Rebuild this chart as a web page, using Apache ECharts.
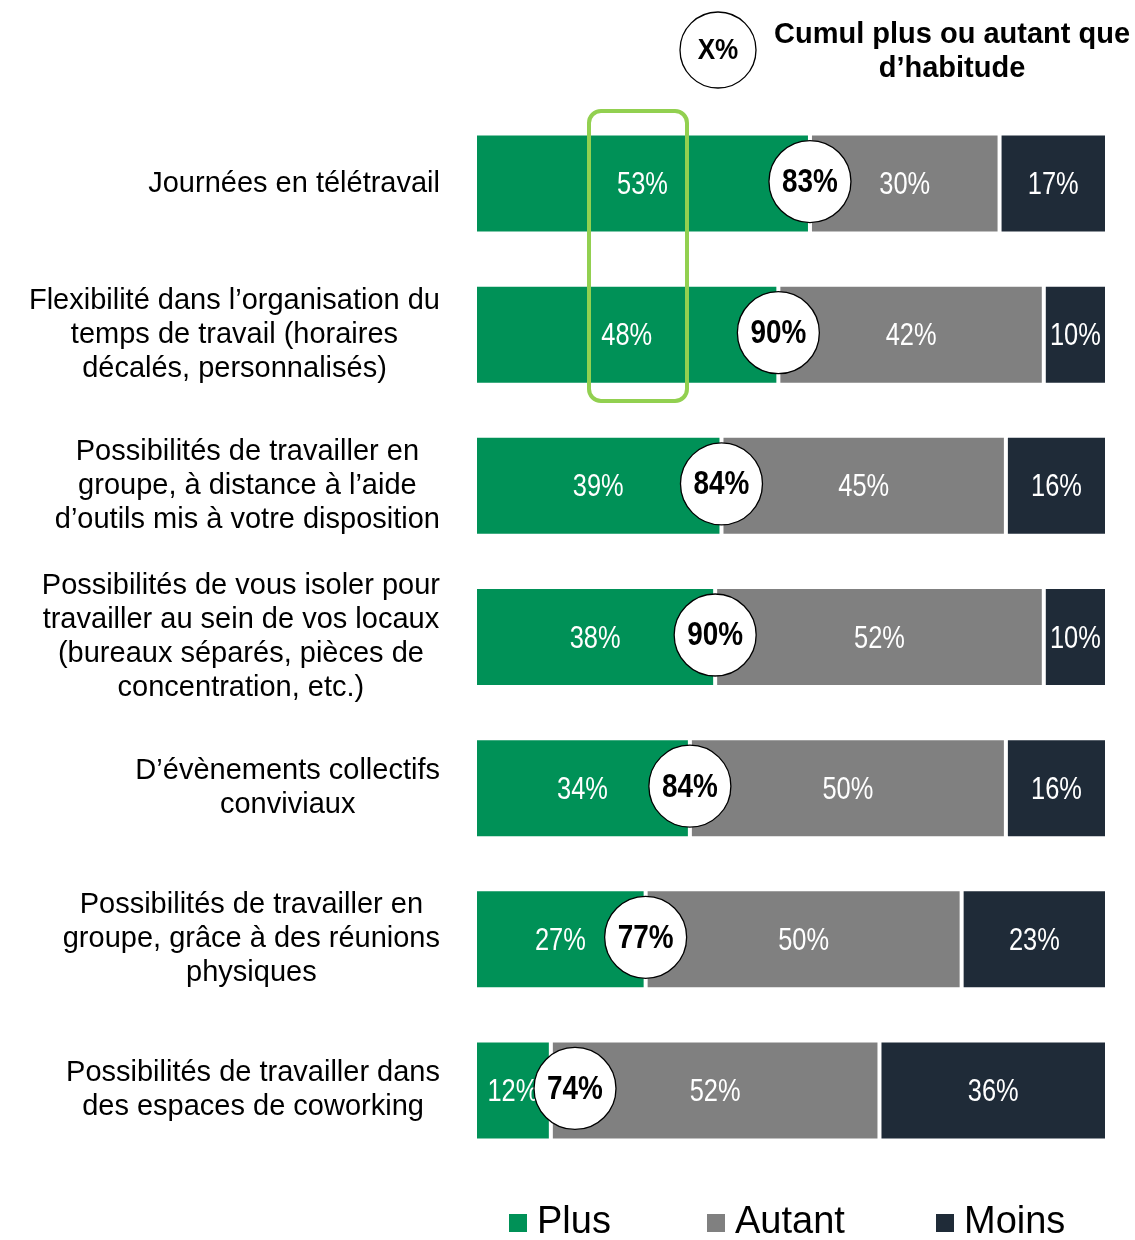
<!DOCTYPE html>
<html>
<head>
<meta charset="utf-8">
<script src="https://cdn.jsdelivr.net/npm/echarts@6/dist/echarts.min.js"></script>
<style>
html,body{margin:0;padding:0;background:#fff;}
#chart{width:1135px;height:1240px;}
</style>
</head>
<body>
<div id="chart"></div>
<script>
var categories = [
  "Journées en télétravail",
  "Flexibilité dans l’organisation du\ntemps de travail (horaires\ndécalés, personnalisés)",
  "Possibilités de travailler en\ngroupe, à distance à l’aide\nd’outils mis à votre disposition",
  "Possibilités de vous isoler pour\ntravailler au sein de vos locaux\n(bureaux séparés, pièces de\nconcentration, etc.)",
  "D’évènements collectifs\nconviviaux",
  "Possibilités de travailler en\ngroupe, grâce à des réunions\nphysiques",
  "Possibilités de travailler dans\ndes espaces de coworking"
];
var plus   = [53, 48, 39, 38, 34, 27, 12];
var autant = [30, 42, 45, 52, 50, 50, 52];
var moins  = [17, 10, 16, 10, 16, 23, 36];
var cumul  = [83, 90, 84, 90, 84, 77, 74];
var seriesNames = ["Plus", "Autant", "Moins"];

var SANS = "'Liberation Sans',Arial,Helvetica,sans-serif";
var NARROW_SCALE = 0.82;
var colors = ["#009157", "#808080", "#1F2B38"];

var chart = echarts.init(document.getElementById('chart'));

function barSeries(name, data, color) {
  return {
    name: name,
    type: 'bar',
    stack: 'total',
    barWidth: 100,
    data: data,
    itemStyle: { color: color, borderColor: '#fff', borderWidth: 2 },
    label: { show: false },
    emphasis: { disabled: true },
    z: 2
  };
}

// segment labels built from the value arrays
var segData = [];
plus.forEach(function (p, i) {
  var vals = [plus[i], autant[i], moins[i]];
  var start = 0;
  vals.forEach(function (v) {
    segData.push([i, start, start + v, v]);
    start += v;
  });
});

var circleData = plus.map(function (p, i) { return [i, p, cumul[i]]; });

function legendFor(k, left) {
  return {
    left: left,
    bottom: -2,
    padding: 0,
    itemWidth: 20,
    itemHeight: 20,
    icon: 'rect',
    data: [seriesNames[k]],
    selectedMode: false,
    textStyle: { fontFamily: SANS, fontSize: 38, color: '#000', padding: [0, 0, 0, 4] }
  };
}

var option = {
  backgroundColor: '#fff',
  animation: false,
  grid: { left: 475, right: 28, top: 108, bottom: 74, containLabel: false },
  xAxis: { type: 'value', min: 0, max: 100, show: false },
  yAxis: {
    type: 'category',
    inverse: true,
    data: categories,
    axisLine: { show: false },
    axisTick: { show: false },
    axisLabel: {
      margin: 35,
      align: 'right',
      color: '#000',
      fontFamily: SANS,
      fontSize: 29,
      lineHeight: 34,
      formatter: function (v) {
        return v.split('\n').map(function (l) { return '{c|' + l + '}'; }).join('\n');
      },
      rich: {
        c: { align: 'center', fontFamily: SANS, fontSize: 29, lineHeight: 34, color: '#000' }
      }
    }
  },
  legend: [legendFor(0, 507), legendFor(1, 705), legendFor(2, 934)],
  series: [
    barSeries(seriesNames[0], plus, colors[0]),
    barSeries(seriesNames[1], autant, colors[1]),
    barSeries(seriesNames[2], moins, colors[2]),
    {
      type: 'custom',
      name: 'segLabels',
      data: segData,
      encode: { x: [1, 2], y: 0 },
      z: 5,
      silent: true,
      renderItem: function (params, api) {
        var idx = api.value(0);
        var p0 = api.coord([api.value(1), idx]);
        var p1 = api.coord([api.value(2), idx]);
        return {
          type: 'text',
          x: (p0[0] + p1[0]) / 2,
          y: p0[1] + 2,
          scaleX: NARROW_SCALE,
          style: { x: 0, y: 0, text: api.value(3) + '%', align: 'center', verticalAlign: 'middle',
            fontFamily: SANS, fontSize: 31, fill: '#fff' }
        };
      }
    },
    {
      type: 'custom',
      name: 'cumul',
      data: circleData,
      encode: { x: 1, y: 0 },
      z: 10,
      silent: true,
      renderItem: function (params, api) {
        var idx = api.value(0);
        var pt = api.coord([api.value(1), idx]);
        var left = api.coord([0, idx])[0];
        var cx = Math.max(pt[0], left + 100);
        var cy = pt[1] - 2;
        return {
          type: 'group',
          children: [
            { type: 'circle', shape: { cx: cx, cy: cy, r: 41 },
              style: { fill: '#fff', stroke: '#000', lineWidth: 1.3 } },
            { type: 'text', x: cx, y: cy + 1, scaleX: NARROW_SCALE,
              style: { x: 0, y: 0, text: api.value(2) + '%', align: 'center', verticalAlign: 'middle',
                fontFamily: SANS, fontWeight: 'bold', fontSize: 34, fill: '#000' } }
          ]
        };
      }
    }
  ],
  graphic: [
    { type: 'rect', shape: { x: 589, y: 111, width: 98, height: 290, r: 12 },
      style: { fill: 'none', stroke: '#92D050', lineWidth: 4 }, z: 20 },
    { type: 'circle', shape: { cx: 718, cy: 50, r: 38 },
      style: { fill: '#fff', stroke: '#000', lineWidth: 1.3 }, z: 20 },
    { type: 'text', x: 718, y: 51, scaleX: 0.9,
      style: { x: 0, y: 0, text: 'X%', align: 'center', verticalAlign: 'middle',
      fontFamily: SANS, fontWeight: 'bold', fontSize: 29, fill: '#000' }, z: 21 },
    { type: 'text', style: { x: 952, y: 52, text: 'Cumul plus ou autant que\nd’habitude', align: 'center', verticalAlign: 'middle',
      fontFamily: SANS, fontWeight: 'bold', fontSize: 29, lineHeight: 34, fill: '#000' }, z: 21 }
  ]
};
chart.setOption(option);
</script>
</body>
</html>
